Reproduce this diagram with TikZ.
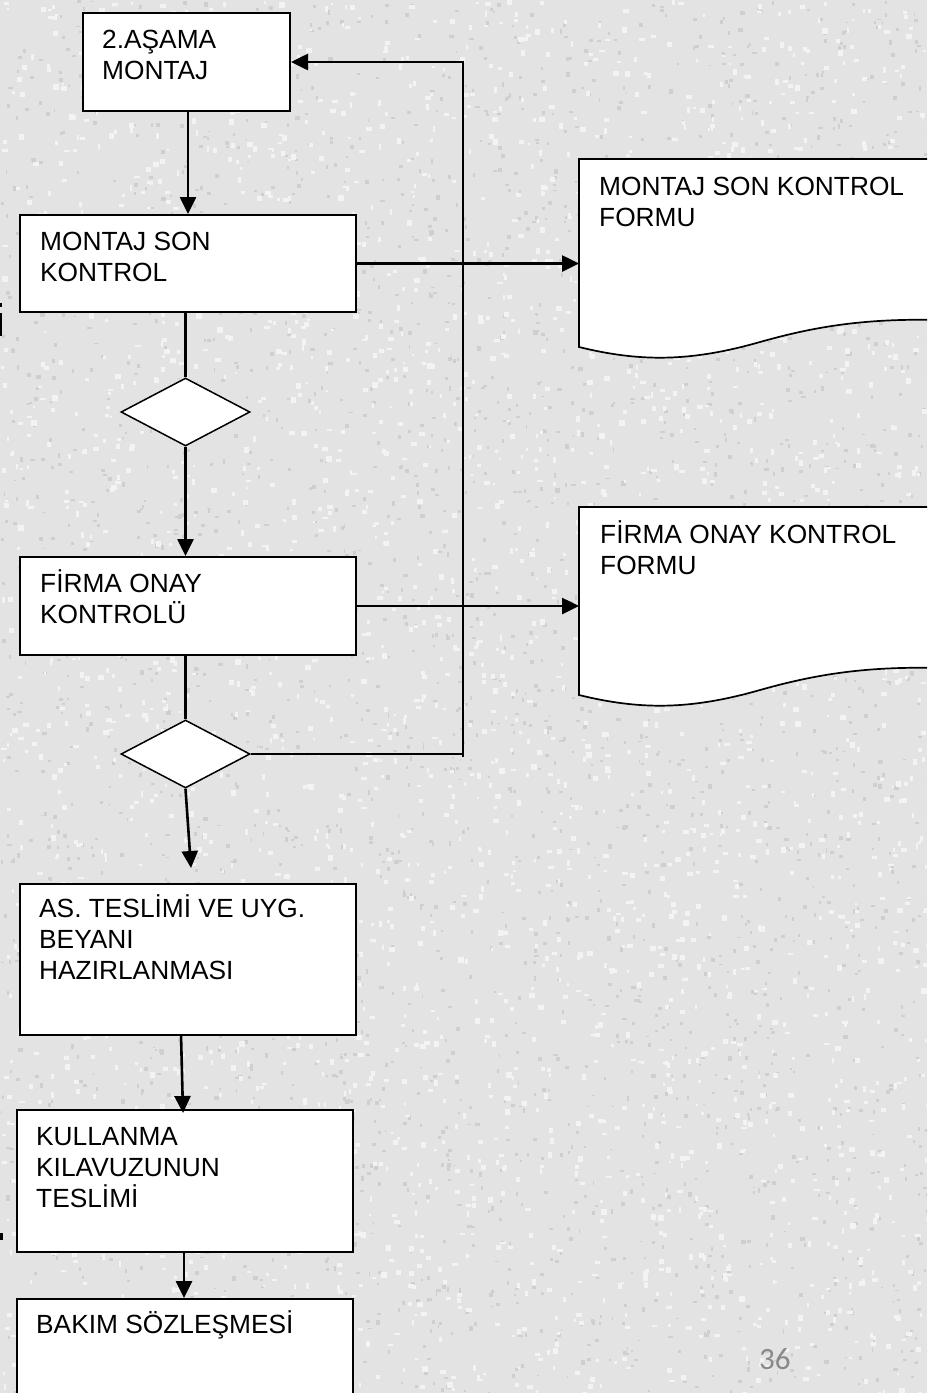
\documentclass[tikz,border=0pt]{standalone}
\usepackage{fontspec}
\setmainfont{Liberation Sans}
\newfontfamily\numfont{Carlito}
\usetikzlibrary{arrows.meta,shapes.geometric,calc}

\definecolor{paper}{RGB}{227,227,227}
\definecolor{speckdark}{RGB}{207,207,207}
\definecolor{specklight}{RGB}{243,243,243}
\definecolor{pagenum}{RGB}{137,137,137}

\begin{document}
\begin{tikzpicture}[x=1pt,y=-1pt,
  stepbox/.style={rectangle,draw=black,line width=2pt,fill=white,inner sep=0pt,anchor=north west},
  decision/.style={diamond,draw=black,line width=1.5pt,fill=white,inner sep=0pt,
    minimum width=129pt,minimum height=68pt},
  docarea/.style={rectangle,inner sep=0pt,anchor=north west},
  docshape/.style={draw=black,line width=1.7pt,fill=white},
  label/.style={inner sep=0pt,anchor=north west,align=left,
    font=\fontsize{26.3}{31}\selectfont},
  flow/.style={line width=2.6pt,-{Triangle[length=17pt,width=16pt]}},
  link/.style={line width=2.3pt},
  fragment/.style={fill=black},
]
\newcommand{\firstline}{\rule{0pt}{25pt}}

% page and granite texture
\useasboundingbox (0,0) rectangle (927,1393);
\clip (0,0) rectangle (927,1393);
\fill[paper] (0,0) rectangle (927,1393);
\pgfmathsetseed{42}
\foreach \i in {1,...,3000}{
  \pgfmathsetmacro\sx{927*rnd}
  \pgfmathsetmacro\sy{1393*rnd}
  \pgfmathsetmacro\sw{1.5+3*rnd}
  \pgfmathsetmacro\sh{1.5+3*rnd}
  \fill[speckdark] (\sx,\sy) rectangle ++(\sw,\sh);
}
\foreach \i in {1,...,3000}{
  \pgfmathsetmacro\sx{927*rnd}
  \pgfmathsetmacro\sy{1393*rnd}
  \pgfmathsetmacro\sw{2+4*rnd}
  \pgfmathsetmacro\sh{2+4*rnd}
  \fill[specklight] (\sx,\sy) rectangle ++(\sw,\sh);
}

% cut-off letter pieces at the left margin
\fill[fragment] (0,303) rectangle (1.6,307);
\fill[fragment] (0,313) rectangle (2,336);
\fill[fragment] (0,1233) rectangle (2.5,1240);

% process boxes
\node[stepbox,minimum width=207pt,minimum height=98pt] (b1) at (82,12) {};
\node[stepbox,minimum width=336pt,minimum height=97pt] (b2) at (19,214) {};
\node[stepbox,minimum width=336pt,minimum height=98pt] (b3) at (19,556) {};
\node[stepbox,minimum width=336pt,minimum height=151pt] (b4) at (19,883) {};
\node[stepbox,minimum width=336pt,minimum height=142pt] (b5) at (16,1109) {};
\node[stepbox,minimum width=336pt,minimum height=120pt] (b6) at (16,1298) {};

% decisions
\node[decision] (q1) at (185.5,412) {};
\node[decision] (q2) at (185.5,754) {};

% documents with a wavy lower edge
\foreach \dy/\nm in {0/d1,348/d2}{
  \begin{scope}[shift={(0,\dy)}]
    \filldraw[docshape] (579,159) -- (940,159) -- (940,320)
      .. controls (860,318) and (810,328) .. (760,342)
      .. controls (690,362) and (640,362) .. (579,347) -- cycle;
    \node[docarea,minimum width=348pt,minimum height=188pt] (\nm) at (579,159) {};
  \end{scope}
}

% texts
\node[label] (t1) at ($(b1.north west)+(20,11)$) {\firstline 2.AŞAMA\\MONTAJ};
\node[label] (t2) at ($(b2.north west)+(21,11)$) {\firstline MONTAJ SON\\KONTROL};
\node[label] (t3) at ($(b3.north west)+(21,11)$) {\firstline FİRMA ONAY\\KONTROLÜ};
\node[label] (t4) at ($(b4.north west)+(20,9)$) {\firstline AS. TESLİMİ VE UYG.\\BEYANI\\HAZIRLANMASI};
\node[label] (t5) at ($(b5.north west)+(20,11)$) {\firstline KULLANMA\\KILAVUZUNUN\\TESLİMİ};
\node[label] (t6) at ($(b6.north west)+(20,10)$) {\firstline BAKIM SÖZLEŞMESİ};
\node[label] (td1) at ($(d1.north west)+(20,11)$) {\firstline MONTAJ SON KONTROL\\FORMU};
\node[label] (td2) at ($(d2.north west)+(21,11)$) {\firstline FİRMA ONAY KONTROL\\FORMU};

% page number
\node[inner sep=0pt,anchor=base west,text=pagenum,font=\numfont\fontsize{31}{36}\selectfont]
  (pg) at (759,1369) {36};

% connectors
\coordinate (loop) at (463,757);
\coordinate (drop) at (191,868);
\draw[flow] (b1.south -| 188,0) -- (b2.north -| 188,0);
\draw[link] (b2.south -| q1.north) -- (q1.north);
\draw[flow] (q1.south) -- (b3.north -| q1.south);
\draw[link] (b3.south -| q2.north) -- (q2.north);
\draw[flow] (q2.south) -- (drop);
\draw[flow] (b2.east) -- (b2.east -| d1.west);
\draw[flow] (b3.east) -- (b3.east -| d2.west);
\draw[link] (q2.east) -- (q2.east -| loop);
\draw[flow] (loop) -- (loop |- b1.east) -- (b1.east);
\draw[flow] (181,1034) -- (183,1113);
\draw[flow] (b5.south -| 184,0) -- (b6.north -| 184,0);
\end{tikzpicture}
\end{document}
